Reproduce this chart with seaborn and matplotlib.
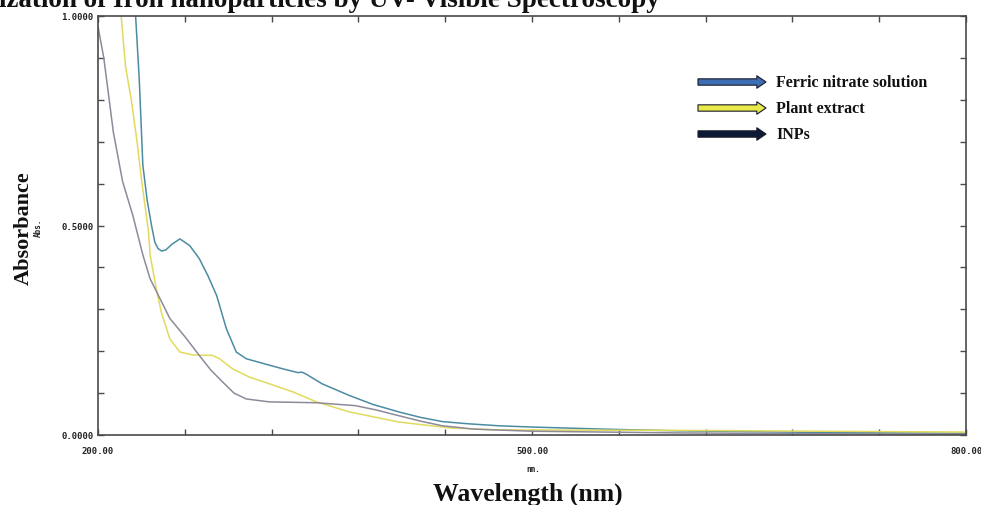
import matplotlib
matplotlib.use("Agg")
import matplotlib.pyplot as plt
import seaborn as sns
import pandas as pd

# ---------------- data ----------------
ferric_nm = [223, 226, 228.5, 231, 234, 237, 239.3, 241.5, 244, 247, 251, 256.6, 263.4,
             270, 276, 282, 288.7, 295.6, 302.5, 315, 327.6, 338, 341, 344, 355, 374,
             390, 408, 423, 438, 455, 477, 500, 550, 600, 650, 700, 750, 800]
ferric_abs = [1.12, 1.0, 0.85, 0.644, 0.56, 0.50, 0.46, 0.445, 0.439, 0.442, 0.455, 0.468, 0.452,
              0.421, 0.38, 0.333, 0.254, 0.198, 0.182, 0.17, 0.158, 0.149, 0.150, 0.145, 0.122, 0.094,
              0.073, 0.055, 0.042, 0.032, 0.027, 0.022, 0.019, 0.014, 0.010, 0.008, 0.006, 0.005, 0.004]

plant_nm = [213, 216, 219, 223, 227, 230.3, 234.9, 236, 240.5, 244, 249.7, 256.6, 265.7,
            279, 284, 293, 304.8, 318.6, 334.6, 351, 374, 408, 443, 477, 500, 600, 700, 800]
plant_abs = [1.15, 1.0, 0.88, 0.80, 0.70, 0.604, 0.485, 0.43, 0.345, 0.29, 0.229, 0.198, 0.191,
             0.19, 0.182, 0.158, 0.138, 0.122, 0.103, 0.079, 0.055, 0.031, 0.017, 0.012, 0.012,
             0.011, 0.009, 0.007]

inps_nm = [200, 204, 207, 210.6, 217, 224, 231, 236, 240.5, 249.7, 260, 270, 278, 286, 294,
           302.5, 318.6, 351, 378, 392, 408, 423, 438, 460, 500, 550, 600, 700, 800]
inps_abs = [0.975, 0.90, 0.82, 0.723, 0.605, 0.525, 0.43, 0.373, 0.342, 0.278, 0.235, 0.19,
            0.155, 0.127, 0.10, 0.086, 0.079, 0.077, 0.07, 0.06, 0.046, 0.033, 0.022, 0.014,
            0.009, 0.007, 0.005, 0.003, 0.002]

series_names = ["Ferric nitrate solution", "Plant extract", "INPs"]
line_colors = ["#4b8ca2", "#e2da5c", "#8e8a9a"]
arrow_colors = ["#3d6db3", "#e8ea4a", "#0d1a35"]

x_ticks = [200, 260, 320, 380, 440, 500, 560, 620, 680, 740, 800]
x_labels = ["200.00", "", "", "", "", "500.00", "", "", "", "", "800.00"]
y_ticks = [0.0, 0.1, 0.2, 0.3, 0.4, 0.5, 0.6, 0.7, 0.8, 0.9, 1.0]
y_labels = ["0.0000", "", "", "", "", "0.5000", "", "", "", "", "1.0000"]

title = "Characterization of Iron nanoparticles by UV- Visible Spectroscopy"
title_hidden_part = "Character"

# ---------------- figure ----------------
sns.set_theme(style="white")
plt.rcParams["font.family"] = ["DejaVu Sans"]

W, H = 981, 506
fig = plt.figure(figsize=(W / 100, H / 100), dpi=100)
ax = fig.add_axes([98 / W, 1 - 436 / H, (966 - 98) / W, (436 - 17) / H])

df = pd.concat([
    pd.DataFrame({"nm": ferric_nm, "abs": ferric_abs, "s": series_names[0]}),
    pd.DataFrame({"nm": plant_nm, "abs": plant_abs, "s": series_names[1]}),
    pd.DataFrame({"nm": inps_nm, "abs": inps_abs, "s": series_names[2]}),
])
sns.lineplot(data=df, x="nm", y="abs", hue="s", palette=dict(zip(series_names, line_colors)),
             estimator=None, sort=False, linewidth=1.1, legend=False, ax=ax)

ax.set_xlim(200, 800)
ax.set_ylim(0, 1)
ax.set_xlabel("")
ax.set_ylabel("")
ax.set_xticks(x_ticks)
ax.set_xticklabels(x_labels)
ax.set_yticks(y_ticks)
ax.set_yticklabels(y_labels)
for sp in ax.spines.values():
    sp.set_color("#4a4a4a")
    sp.set_linewidth(1.2)
ax.tick_params(axis="both", which="both", direction="in", length=4, width=1,
               color="#4a4a4a", top=True, right=True, bottom=True, left=True)
ax.tick_params(axis="x", pad=8)
ax.tick_params(axis="y", pad=3)
for lab in ax.get_xticklabels() + ax.get_yticklabels():
    lab.set_fontfamily("DejaVu Sans Mono")
    lab.set_fontweight("bold")
    lab.set_fontsize(6.5)
    lab.set_color("#222222")

serif = ["Liberation Serif", "DejaVu Serif"]
title_kw = dict(fontfamily=serif, fontweight="bold", fontsize=19.5, color="#111111")

# measure the part of the title that falls off the left edge in the reference
renderer = fig.canvas.get_renderer()
probe = fig.text(0, 0, title_hidden_part, **title_kw)
hidden_w = probe.get_window_extent(renderer=renderer).width
probe.remove()
fig.text((-hidden_w - 1) / W, 1 - 7 / H, title, ha="left", va="baseline", **title_kw)

fig.text(24 / W, 1 - 228 / H, "Absorbance", rotation=90, ha="center", va="center",
         fontfamily=serif, fontweight="bold", fontsize=16, color="#111111")
fig.text(38 / W, 1 - 228 / H, "Abs.", rotation=90, ha="center", va="center",
         fontfamily="DejaVu Sans Mono", fontweight="bold", fontsize=5.5, color="#222222")

fig.text(533 / W, 1 - 470 / H, "nm.", ha="center", va="center",
         fontfamily="DejaVu Sans Mono", fontweight="bold", fontsize=5.5, color="#222222")
fig.text(528 / W, 1 - 494 / H, "Wavelength (nm)", ha="center", va="center",
         fontfamily=serif, fontweight="bold", fontsize=18.5, color="#111111")

# legend with arrows
for i, (name, col) in enumerate(zip(series_names, arrow_colors)):
    yp = H - (83 + 26 * i)
    ax.annotate("", xy=(766, yp), xytext=(698, yp), xycoords="figure pixels",
                textcoords="figure pixels",
                arrowprops=dict(arrowstyle="simple,head_length=0.55,head_width=0.75,tail_width=0.38",
                                mutation_scale=12, fc=col, ec="#1a1a2a", lw=0.8,
                                shrinkA=0, shrinkB=0))
    fig.text(776 / W, yp / H, name, ha="left", va="center",
             fontfamily=serif, fontweight="bold", fontsize=11.5, color="#111111")

fig.savefig("out.png", dpi=100)
